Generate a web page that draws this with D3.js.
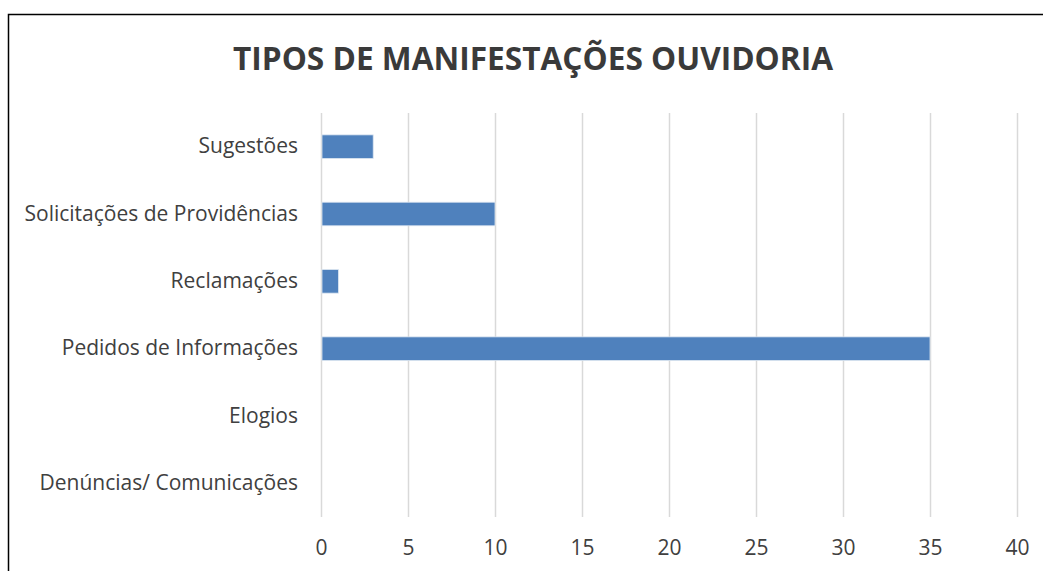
<!DOCTYPE html>
<html>
<head>
<meta charset="utf-8">
<script src="https://cdn.jsdelivr.net/npm/d3@7"></script>
<style>
  html, body { margin: 0; padding: 0; background: #fff; overflow: hidden; }
</style>
</head>
<body>
<div id="chart"></div>
<script>
// chart data, bottom category first as in the original sheet
const categories = [
  "Denúncias/ Comunicações",
  "Elogios",
  "Pedidos de Informações",
  "Reclamações",
  "Solicitações de Providências",
  "Sugestões"
];
const values = [0, 0, 35, 1, 10, 3];
const xTicks = [0, 5, 10, 15, 20, 25, 30, 35, 40];
const title = "TIPOS DE MANIFESTAÇÕES OUVIDORIA";

const width = 1043, height = 571;
const margin = { top: 113, right: 26, bottom: 54, left: 321 };
const font = "'Open Sans', sans-serif";

const svg = d3.select("#chart").append("svg")
    .attr("width", width)
    .attr("height", height)
    .style("font-family", font);

// outer chart frame (only top and left edges are visible in the crop)
svg.append("rect")
    .attr("x", 8.5).attr("y", 14.5)
    .attr("width", width + 20).attr("height", height + 20)
    .attr("fill", "none")
    .attr("stroke", "#000")
    .attr("stroke-width", 1.5);

svg.append("text")
    .attr("x", 533)
    .attr("y", 70)
    .attr("text-anchor", "middle")
    .attr("font-size", 33)
    .attr("font-weight", "bold")
    .attr("fill", "#3a3a3a")
    .attr("textLength", 600)
    .attr("lengthAdjust", "spacingAndGlyphs")
    .text(title);

const x = d3.scaleLinear()
    .domain([0, 40])
    .range([margin.left, width - margin.right]);

// reversed so the last entry sits at the top
const y = d3.scaleBand()
    .domain(categories.slice().reverse())
    .range([margin.top, height - margin.bottom])
    .paddingInner(0.65)
    .paddingOuter(0.325);

// vertical gridlines + value labels
const xAxis = svg.append("g")
    .attr("transform", `translate(0,${height - margin.bottom})`)
    .call(d3.axisBottom(x)
      .tickValues(xTicks)
      .tickSize(-(height - margin.top - margin.bottom))
      .tickPadding(23));
xAxis.select(".domain").remove();
xAxis.selectAll("line")
    .attr("stroke", "#d9d9d9")
    .attr("stroke-width", 1.5);
xAxis.selectAll("text")
    .attr("font-family", font)
    .attr("font-size", 21)
    .attr("fill", "#404040");

const bars = categories.map((c, i) => ({ name: c, value: values[i] }));

svg.append("g")
  .selectAll("rect")
  .data(bars)
  .join("rect")
    .attr("x", x(0) + 1)
    .attr("y", d => y(d.name))
    .attr("width", d => Math.max(0, x(d.value) - x(0) - 1))
    .attr("height", y.bandwidth())
    .attr("fill", "#4f81bd")
    .attr("stroke", d => d.value > 0 ? "#dbe5f1" : "none")
    .attr("stroke-width", 0.8);

const yAxis = svg.append("g")
    .attr("transform", `translate(${margin.left},0)`)
    .call(d3.axisLeft(y).tickSize(0).tickPadding(23));
yAxis.select(".domain").remove();
yAxis.selectAll("text")
    .attr("font-family", font)
    .attr("font-size", 21)
    .attr("fill", "#404040");
</script>
</body>
</html>
